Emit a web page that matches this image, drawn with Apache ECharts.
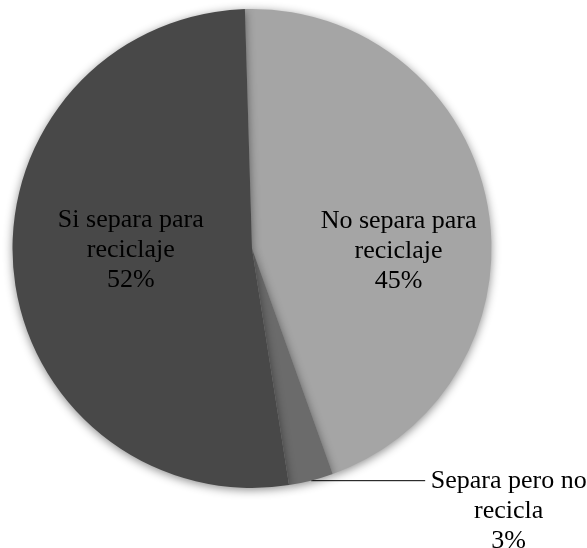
<!DOCTYPE html>
<html>
<head>
<meta charset="utf-8">
<script src="https://cdn.jsdelivr.net/npm/echarts@6/dist/echarts.min.js"></script>
<style>
  html, body { margin: 0; padding: 0; background: #ffffff; }
  #chart { width: 587px; height: 548px; }
</style>
</head>
<body>
<div id="chart"></div>
<script>
// Waste-separation answers, share of respondents (%)
const categories = ['No separa para reciclaje', 'Separa pero no recicla', 'Si separa para reciclaje'];
const shares = [45, 3, 52];
const sliceColors = ['#a5a5a5', '#6b6b6b', '#484848'];

const FONT = '"Liberation Serif", "Times New Roman", serif';

// Split a category name into the two text lines used in the labels
function splitName(name) {
  const words = name.split(' ');
  return [words.slice(0, 3).join(' '), words.slice(3).join(' ')];
}

const insideOffsets = [[26, 25], null, [1, -10]];

const data = categories.map((name, i) => {
  const item = {
    name: name,
    value: shares[i],
    itemStyle: { color: sliceColors[i] }
  };
  if (i === 1) {
    // small slice: label outside, joined by a horizontal leader line
    item.label = {
      show: true,
      position: 'outside',
      padding: [60, 0, 0, 0],
      formatter: function (p) {
        const l = splitName(p.name);
        return '{a|' + l[0] + '}\n{a|' + l[1] + '}\n{a|' + p.value + '%}';
      },
      rich: {
        a: { width: 157, align: 'center', fontSize: 26, lineHeight: 30, fontFamily: FONT, color: '#000' }
      }
    };
    item.labelLine = { show: true, length: 0.1, length2: 114, lineStyle: { color: '#000', width: 1 } };
  } else {
    item.label = {
      show: true,
      position: 'inside',
      offset: insideOffsets[i],
      formatter: function (p) {
        const l = splitName(p.name);
        return l[0] + '\n' + l[1] + '\n' + p.value + '%';
      },
      fontSize: 26,
      lineHeight: 30,
      fontFamily: FONT,
      color: '#000',
      align: 'center'
    };
    item.labelLine = { show: false };
  }
  return item;
});

const chart = echarts.init(document.getElementById('chart'), null, { renderer: 'canvas' });
chart.setOption({
  backgroundColor: '#ffffff',
  animation: false,
  series: [{
    type: 'pie',
    center: [252, 248.5],
    radius: [0, 239.5],
    startAngle: 91.7,
    clockwise: true,
    avoidLabelOverlap: false,
    itemStyle: {
      borderWidth: 0,
      shadowBlur: 10,
      shadowOffsetY: 2,
      shadowColor: 'rgba(0,0,0,0.45)'
    },
    emphasis: { disabled: true },
    data: data
  }]
});
</script>
</body>
</html>
